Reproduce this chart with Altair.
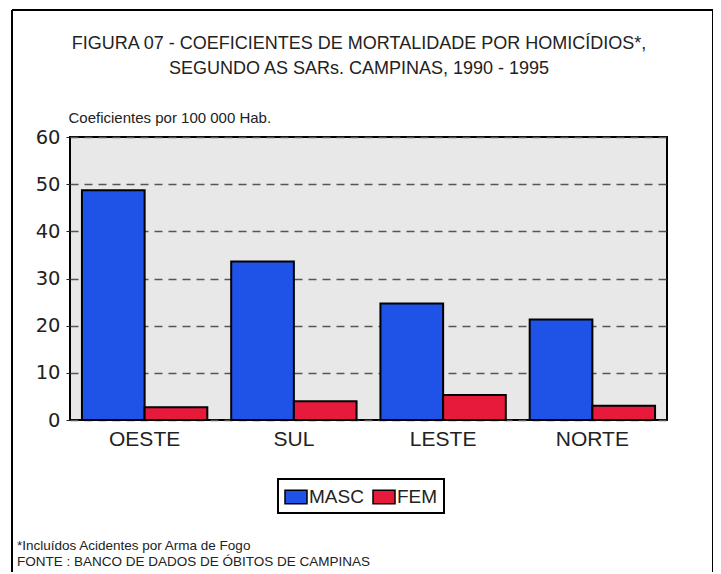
import altair as alt
import pandas as pd

categories = ["OESTE", "SUL", "LESTE", "NORTE"]
masc = [48.7, 33.6, 24.7, 21.3]
fem = [2.7, 4.0, 5.3, 3.0]
series = ["MASC", "FEM"]
y_ticks = [0, 10, 20, 30, 40, 50, 60]

title1 = "FIGURA 07 - COEFICIENTES DE MORTALIDADE POR HOMICÍDIOS*,"
title2 = "SEGUNDO AS SARs. CAMPINAS, 1990 - 1995"
ytitle = "Coeficientes por 100 000 Hab."
note1 = "*Incluídos Acidentes por Arma de Fogo"
note2 = "FONTE : BANCO DE DADOS DE ÓBITOS DE CAMPINAS"

rows = []
for c, m, f in zip(categories, masc, fem):
    rows.append({"SAR": c, "Sexo": "MASC", "valor": m})
    rows.append({"SAR": c, "Sexo": "FEM", "valor": f})
df = pd.DataFrame(rows)

W, H = 597, 283
FONT = "Liberation Sans"

bars = alt.Chart(df).mark_bar(stroke="black", strokeWidth=2).encode(
    x=alt.X("SAR:N", sort=categories,
            scale=alt.Scale(paddingInner=0.16, paddingOuter=0.08),
            axis=alt.Axis(title=None, labelAngle=0, labelFontSize=21, labelFont=FONT,
                          labelColor="#222", labelPadding=8, ticks=False, domain=False)),
    xOffset=alt.XOffset("Sexo:N", sort=series, scale=alt.Scale(paddingInner=0, paddingOuter=0)),
    y=alt.Y("valor:Q", scale=alt.Scale(domain=[0, 60], nice=False),
            axis=alt.Axis(values=y_ticks, title=ytitle, titleAngle=0, titleAlign="left",
                          titleBaseline="alphabetic", titleX=-2, titleY=-15,
                          titleFont=FONT, titleFontSize=15, titleFontWeight="normal",
                          titleColor="#222",
                          labelFont="DejaVu Sans", labelFontSize=19.5, labelColor="#222",
                          labelPadding=6, tickSize=4, tickColor="#222", domain=False,
                          grid=True, gridColor="#555", gridDash=[8, 6], gridWidth=1.5,
                          gridOpacity=1)),
    color=alt.Color("Sexo:N", sort=series,
                    scale=alt.Scale(domain=series, range=["#1f52e6", "#e81a3c"]),
                    legend=alt.Legend(title=None, orient="none", legendX=208, legendY=342,
                                      direction="horizontal",
                                      symbolType="M-1,-0.62H1V0.62H-1Z", symbolSize=484,
                                      symbolStrokeColor="black", symbolStrokeWidth=1.5,
                                      symbolOpacity=1,
                                      labelFont=FONT, labelFontSize=19, labelColor="#222",
                                      labelOffset=1, columnPadding=6,
                                      padding=6, strokeColor="black",
                                      fillColor="white")),
)

one = alt.Data(values=[{"k": 1}])

def txt(t, x, y, size, align="left", font=FONT):
    return alt.Chart(one).mark_text(text=t, align=align, baseline="alphabetic",
                                    fontSize=size, font=font, color="#222").encode(
        x=alt.value(x), y=alt.value(y))

frame_left = alt.Chart(one).mark_rule(color="black", strokeWidth=2).encode(
    x=alt.value(-58), y=alt.value(-127), y2=alt.value(470))
frame_right = alt.Chart(one).mark_rule(color="black", strokeWidth=2).encode(
    x=alt.value(643), y=alt.value(-127), y2=alt.value(470))
frame_top = alt.Chart(one).mark_rule(color="black", strokeWidth=2).encode(
    x=alt.value(-58), x2=alt.value(643), y=alt.value(-127))

chart = alt.layer(
    bars,
    frame_left, frame_right, frame_top,
    txt(title1, 289, -88, 18, "center"),
    txt(title2, 289, -63, 18, "center"),
    txt(note1, -53, 413, 13.5),
    txt(note2, -53, 429, 13.5),
).properties(
    width=W, height=H,
    autosize=alt.AutoSizeParams(type="none"),
    padding={"left": 62, "top": 129, "right": 46, "bottom": 152},
    background="white",
).configure_view(
    fill="#e8e8e8", stroke="black", strokeWidth=2
).configure_legend(strokeWidth=2)

chart.save("out.html", embed_options={"renderer": "svg", "actions": False})
